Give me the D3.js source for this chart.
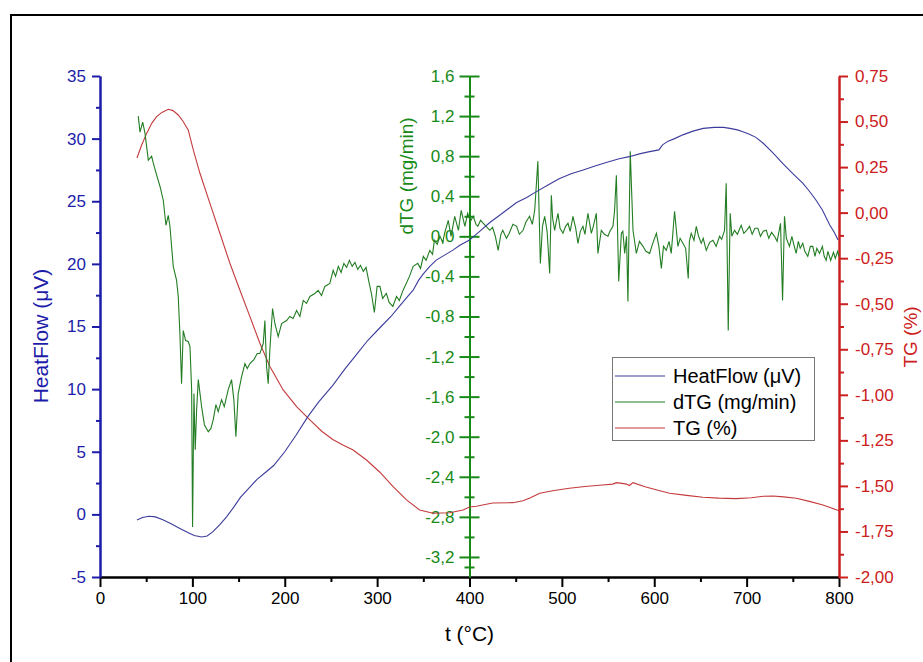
<!DOCTYPE html>
<html lang="en">
<head>
	<meta charset="utf-8">
	<title>HeatFlow / dTG / TG</title>
	<style type="text/css">
		body {
			margin: 0;
			background: #fff;
		}
		svg text {
			font-family: "Liberation Sans", Arial, sans-serif;
		}
	</style>
</head>
<body>
	<div id="vis"></div>

	<script src="https://cdn.jsdelivr.net/npm/d3@7"></script>
	<script type="text/javascript">

		//Data: [t (°C), value]
		var heatFlow = [
			[40,-0.45],[46,-0.25],[53,-0.15],[60,-0.2],[68,-0.42],[77,-0.75],[86,-1.1],[95,-1.45],
			[102,-1.68],[110,-1.8],[116,-1.72],[122,-1.4],[130,-0.8],[137,-0.2],[145,0.6],[152,1.35],
			[160,2.0],[170,2.8],[180,3.4],[188,3.9],[200,5.0],[212,6.3],[225,7.8],[237,9.0],[252,10.3],
			[265,11.6],[278,12.8],[290,13.9],[303,14.9],[315,15.8],[324,16.6],[332,17.3],[339,17.9],
			[345,18.7],[350,19.2],[357,19.8],[364,20.3],[373,20.7],[382,21.1],[390,21.5],[400,21.9],
			[411,22.6],[422,23.3],[433,23.9],[442,24.4],[451,24.9],[462,25.3],[472,25.75],[485,26.3],
			[497,26.8],[510,27.2],[523,27.5],[535,27.8],[548,28.1],[562,28.4],[573,28.56],[585,28.8],
			[595,28.96],[605,29.1],[609,29.5],[615,29.8],[622,30.0],[631,30.3],[642,30.6],[653,30.82],
			[665,30.9],[675,30.9],[682,30.82],[690,30.7],[696,30.55],[703,30.35],[710,30.1],[718,29.63],
			[728,28.9],[739,28.03],[750,27.2],[761,26.43],[768,25.8],[775,25.1],[782,24.3],[790,23.1],
			[795,22.5],[799,21.9]
		];

		var dTG = [
			[41.4,1.20],[43.3,1.04],[46.2,1.14],[48.7,1.03],[52.3,0.76],[55.9,0.80],[57.7,0.73],[61,0.62],
			[64.9,0.50],[68.5,0.36],[71.4,0.11],[73.9,0.21],[75.7,0.10],[79.3,-0.30],[82.9,-0.44],[84.7,-0.60],
			[86.5,-0.97],[88.3,-1.47],[90.1,-0.94],[92.7,-1.04],[95.5,-1.05],[97.4,-1.10],[99.2,-1.53],[100.2,-2.90],
			[101.7,-1.57],[103.1,-2.13],[104.6,-1.73],[106.4,-1.43],[110,-1.70],[113,-1.88],[117.2,-1.95],[120,-1.92],
			[122.6,-1.83],[125.5,-1.68],[128,-1.75],[131.6,-1.63],[134.5,-1.70],[138.8,-1.53],[142.4,-1.43],[144.9,-1.63],
			[147.1,-2.00],[149.6,-1.57],[153.3,-1.40],[156.9,-1.27],[159.4,-1.32],[162.3,-1.27],[166.6,-1.23],[170.2,-1.17],
			[173.1,-1.17],[176.7,-1.07],[178.5,-0.84],[180.3,-1.30],[182.1,-1.47],[183.9,-1.13],[186.8,-0.72],[189.3,-0.87],
			[192.9,-1.00],[196.6,-0.87],[202,-0.84],[205.5,-0.80],[209.1,-0.82],[212.8,-0.74],[216.4,-0.80],[220,-0.64],
			[223.6,-0.67],[227.2,-0.60],[232.6,-0.57],[236.2,-0.54],[239.8,-0.59],[243.4,-0.50],[248.8,-0.47],[252.4,-0.34],
			[255,-0.40],[258,-0.30],[261,-0.36],[264,-0.27],[267,-0.31],[270,-0.24],[273,-0.30],[276,-0.26],
			[279,-0.33],[282,-0.29],[285,-0.35],[288,-0.31],[291,-0.45],[294,-0.58],[297,-0.76],[300,-0.50],
			[303,-0.50],[306,-0.62],[310,-0.57],[313,-0.66],[317,-0.70],[321,-0.60],[324,-0.64],[328,-0.54],
			[331,-0.48],[335,-0.40],[339,-0.30],[344,-0.27],[347,-0.32],[350,-0.20],[353,-0.24],[357,-0.14],
			[360,-0.18],[362,-0.04],[365,-0.08],[368,0.00],[371,-0.06],[373,0.03],[377,0.16],[380,0.00],
			[384,0.20],[388,0.06],[391,0.26],[395,0.10],[398,0.23],[401,0.15],[404,0.20],[407,0.12],
			[409,0.10],[412,0.16],[415,0.13],[418,0.10],[422,0.06],[425,0.09],[428,0.00],[431,-0.14],
			[434,0.02],[436,0.06],[440,-0.02],[443,0.03],[447,0.12],[451,0.10],[454,0.02],[458,0.06],
			[461,0.14],[465,0.20],[468,0.12],[470.6,0.26],[474,0.75],[476.7,-0.27],[479,0.10],[481.4,0.20],
			[484,0.05],[486.8,-0.37],[488.6,0.41],[490,0.18],[492.2,0.06],[494,0.15],[495.8,0.23],[498,0.08],
			[501.2,0.03],[504,0.10],[506.6,0.13],[509,0.05],[512,0.20],[515,0.08],[517.4,-0.07],[520,0.05],
			[522.8,0.10],[525,0.02],[528.2,0.23],[531.9,0.03],[534,0.10],[537.3,0.23],[539,-0.17],[542.7,0.06],
			[546,0.02],[549.9,0.00],[552,0.05],[555.3,0.10],[557,0.25],[559,0.61],[561.5,-0.45],[564.4,0.03],
			[566,0.05],[568,-0.17],[570,0.00],[571.5,-0.65],[574,0.85],[577,0.06],[580.6,-0.17],[584,-0.05],
			[587.8,-0.10],[591,-0.15],[595,-0.17],[598,-0.08],[602.3,0.03],[605,-0.10],[607.7,-0.32],[610,-0.10],
			[613,-0.14],[616,-0.05],[618.4,-0.17],[622,0.25],[625.6,-0.10],[628,-0.02],[631,-0.07],[634,-0.12],
			[636.8,-0.42],[638,-0.05],[640,0.03],[643,-0.04],[645.5,0.10],[648,0.00],[650.9,-0.07],[653,-0.02],
			[656.3,-0.14],[660,-0.06],[663.5,-0.04],[667,-0.10],[670.7,0.00],[673,-0.03],[676.1,0.06],[677.9,0.53],
			[680.1,-0.94],[682.2,0.23],[684,0.00],[686.9,0.06],[690,0.02],[694.1,0.11],[697,0.03],[700,0.06],
			[703.2,0.10],[706,0.02],[709,0.08],[712.2,0.08],[715,0.00],[718,0.05],[721.2,0.06],[724,-0.02],
			[727,0.04],[730.2,0.00],[733,-0.05],[736.7,0.13],[738.9,-0.64],[741,0.20],[743,-0.02],[746.4,-0.10],
			[749,0.00],[751,-0.08],[753.6,-0.17],[756,-0.05],[758,-0.12],[760.8,-0.07],[763,-0.15],[766.2,-0.20],
			[769,-0.10],[771.6,-0.10],[774,-0.20],[776,-0.12],[778.9,-0.17],[782,-0.10],[784,-0.20],[786.1,-0.24],
			[788,-0.15],[791,-0.24],[794,-0.16],[796,-0.22],[798.5,-0.15],[800,-0.20]
		];

		var tg = [
			[40,0.30],[45,0.37],[50.5,0.435],[56,0.49],[61.3,0.527],[67,0.55],[73.9,0.567],[79,0.56],
			[84.7,0.536],[90,0.50],[95.5,0.454],[101,0.344],[108.2,0.216],[119,0.051],[129.8,-0.113],[140.6,-0.278],
			[151.4,-0.425],[162.3,-0.571],[173.1,-0.717],[183.9,-0.845],[198.3,-0.973],[212.8,-1.065],[227.2,-1.138],[240,-1.20],
			[252,-1.245],[263,-1.275],[274,-1.303],[288.5,-1.358],[303,-1.425],[317.3,-1.504],[331.8,-1.577],[346,-1.632],
			[360.6,-1.65],[378.6,-1.647],[393,-1.632],[400,-1.616],[407.5,-1.612],[425,-1.594],[447,-1.592],[458,-1.581],
			[466,-1.565],[476,-1.54],[490,-1.527],[508,-1.513],[525,-1.503],[544,-1.495],[555,-1.49],[559,-1.482],
			[565,-1.486],[570,-1.49],[573,-1.498],[577,-1.482],[590,-1.505],[605,-1.525],[616.6,-1.54],[635,-1.552],
			[652.7,-1.562],[670,-1.567],[688.8,-1.57],[705,-1.565],[718,-1.557],[728.5,-1.555],[740,-1.56],[753.8,-1.568],
			[768,-1.585],[782.6,-1.605],[800,-1.636]
		];

		//Tick values
		var xTicks = [0, 100, 200, 300, 400, 500, 600, 700, 800];
		var hfTicks = [-5, 0, 5, 10, 15, 20, 25, 30, 35];
		var dtgTicks = [-3.2, -2.8, -2.4, -2.0, -1.6, -1.2, -0.8, -0.4, 0.0, 0.4, 0.8, 1.2, 1.6];
		var tgTicks = [-2.0, -1.75, -1.5, -1.25, -1.0, -0.75, -0.5, -0.25, 0.0, 0.25, 0.5, 0.75];

		var seriesNames = ["HeatFlow (\u03bcV)", "dTG (mg/min)", "TG (%)"];

		var w = 923;
		var h = 662;
		var plotL = 100, plotR = 839, plotT = 76, plotB = 577;

		var cBlue = "#1d1daa", cGreen = "#178a17", cRed = "#cc2020";
		var cBlueLine = "#3c3c9c", cGreenLine = "#237d23", cRedLine = "#c43a3c";

		//Comma decimals and a plain hyphen for negatives, as in the picture
		var locale = d3.formatLocale({decimal: ",", thousands: ".", grouping: [3], currency: ["", ""], minus: "-"});

		var xScale = d3.scaleLinear().domain([0, 800]).range([plotL, plotR]);
		var yHF = d3.scaleLinear().domain([-5, 35]).range([plotB, plotT]);
		var yDTG = d3.scaleLinear().domain([-3.4, 1.6]).range([plotB, plotT]);
		var yTG = d3.scaleLinear().domain([-2, 0.75]).range([plotB, plotT]);

		var svg = d3.select("#vis")
					.append("svg")
					.attr("width", w)
					.attr("height", h);

		//Outer frame
		svg.append("rect")
			.attr("x", 11)
			.attr("y", 15)
			.attr("width", 1000)
			.attr("height", 1000)
			.attr("fill", "none")
			.attr("stroke", "#000")
			.attr("stroke-width", 2);

		function styleAxis(g, color, size) {
			g.attr("font-family", null).attr("font-size", null);
			g.selectAll("path").attr("stroke", color).attr("stroke-width", 2);
			g.selectAll("line").attr("stroke", color).attr("stroke-width", 2);
			g.selectAll("text")
				.attr("fill", color)
				.attr("font-size", size);
		}

		function minorVals(ticks) {
			var out = [];
			for (var i = 0; i < ticks.length - 1; i++) {
				out.push((ticks[i] + ticks[i + 1]) / 2);
			}
			return out;
		}

		//X axis minor + major
		var gxm = svg.append("g")
			.attr("transform", "translate(0," + plotB + ")")
			.call(d3.axisBottom(xScale).tickValues(minorVals(xTicks)).tickSize(5).tickSizeOuter(0).tickFormat(""));
		styleAxis(gxm, "#000", "17px");
		var gx = svg.append("g")
			.attr("transform", "translate(0," + plotB + ")")
			.call(d3.axisBottom(xScale).tickValues(xTicks).tickSize(10).tickSizeOuter(0).tickPadding(5)
				.tickFormat(locale.format("d")));
		styleAxis(gx, "#000", "17px");

		//Left axis (HeatFlow)
		var gl = svg.append("g")
			.attr("transform", "translate(" + plotL + ",0)")
			.call(d3.axisLeft(yHF).tickValues(minorVals(hfTicks)).tickSize(4).tickSizeOuter(0).tickFormat(""));
		styleAxis(gl, cBlue, "17px");
		var gL = svg.append("g")
			.attr("transform", "translate(" + plotL + ",0)")
			.call(d3.axisLeft(yHF).tickValues(hfTicks).tickSize(8).tickSizeOuter(0).tickPadding(6)
				.tickFormat(locale.format("d")));
		styleAxis(gL, cBlue, "17px");

		//Middle axis (dTG), ticks cross the line
		var dtgAll = [-3.4].concat(dtgTicks);
		var gm = svg.append("g")
			.attr("transform", "translate(" + xScale(400) + ",0)")
			.call(d3.axisLeft(yDTG).tickValues(minorVals(dtgAll)).tickSize(5).tickSizeOuter(0).tickFormat(""));
		gm.selectAll(".tick line").attr("x1", 5);
		styleAxis(gm, cGreen, "17px");
		var gM = svg.append("g")
			.attr("transform", "translate(" + xScale(400) + ",0)")
			.call(d3.axisLeft(yDTG).tickValues(dtgTicks).tickSize(10).tickSizeOuter(0).tickPadding(5)
				.tickFormat(locale.format(".1f")));
		gM.selectAll(".tick line").attr("x1", 10);
		styleAxis(gM, cGreen, "17px");

		//Right axis (TG)
		var gr = svg.append("g")
			.attr("transform", "translate(" + plotR + ",0)")
			.call(d3.axisRight(yTG).tickValues(minorVals(tgTicks)).tickSize(5).tickSizeOuter(0).tickFormat(""));
		styleAxis(gr, cRed, "17px");
		var gR = svg.append("g")
			.attr("transform", "translate(" + plotR + ",0)")
			.call(d3.axisRight(yTG).tickValues(tgTicks).tickSize(9).tickSizeOuter(0).tickPadding(7)
				.tickFormat(locale.format(".2f")));
		styleAxis(gR, cRed, "17px");

		//Axis titles
		svg.append("text")
			.attr("transform", "translate(48,336) rotate(-90)")
			.attr("text-anchor", "middle")
			.attr("font-size", "21px")
			.attr("fill", cBlue)
			.text("HeatFlow (\u03bcV)");

		svg.append("text")
			.attr("transform", "translate(413,176) rotate(-90)")
			.attr("text-anchor", "middle")
			.attr("font-size", "19px")
			.attr("fill", cGreen)
			.text("dTG (mg/min)");

		svg.append("text")
			.attr("transform", "translate(917,337) rotate(-90)")
			.attr("text-anchor", "middle")
			.attr("font-size", "19px")
			.attr("fill", cRed)
			.text("TG (%)");

		svg.append("text")
			.attr("x", xScale(400))
			.attr("y", 641)
			.attr("text-anchor", "middle")
			.attr("font-size", "21px")
			.attr("fill", "#000")
			.text("t (\u00b0C)");

		//Lines
		var lineHF = d3.line().x(function(d) { return xScale(d[0]); }).y(function(d) { return yHF(d[1]); });
		var lineDTG = d3.line().x(function(d) { return xScale(d[0]); }).y(function(d) { return yDTG(d[1]); });
		var lineTG = d3.line().x(function(d) { return xScale(d[0]); }).y(function(d) { return yTG(d[1]); });

		svg.append("path").datum(tg)
			.attr("d", lineTG).attr("fill", "none").attr("stroke", cRedLine).attr("stroke-width", 1.1);
		svg.append("path").datum(dTG)
			.attr("d", lineDTG).attr("fill", "none").attr("stroke", cGreenLine).attr("stroke-width", 1.1);
		svg.append("path").datum(heatFlow)
			.attr("d", lineHF).attr("fill", "none").attr("stroke", cBlueLine).attr("stroke-width", 1.1);

		//Legend
		var legend = svg.append("g");
		legend.append("rect")
			.attr("x", 612.5).attr("y", 357.5)
			.attr("width", 202).attr("height", 83)
			.attr("fill", "#fff")
			.attr("stroke", "#777")
			.attr("stroke-width", 1);

		var legendColors = [cBlueLine, cGreenLine, cRedLine];
		var legendRows = legend.selectAll("g.row")
			.data(seriesNames)
			.enter()
			.append("g")
			.attr("class", "row")
			.attr("transform", function(d, i) { return "translate(0," + (376 + i * 26) + ")"; });
		legendRows.append("line")
			.attr("x1", 615).attr("x2", 665)
			.attr("y1", 0).attr("y2", 0)
			.attr("stroke", function(d, i) { return legendColors[i]; })
			.attr("stroke-width", 1.1);
		legendRows.append("text")
			.attr("x", 673).attr("y", 7)
			.attr("font-size", "20px")
			.attr("fill", "#000")
			.text(function(d) { return d; });

	</script>
</body>
</html>
